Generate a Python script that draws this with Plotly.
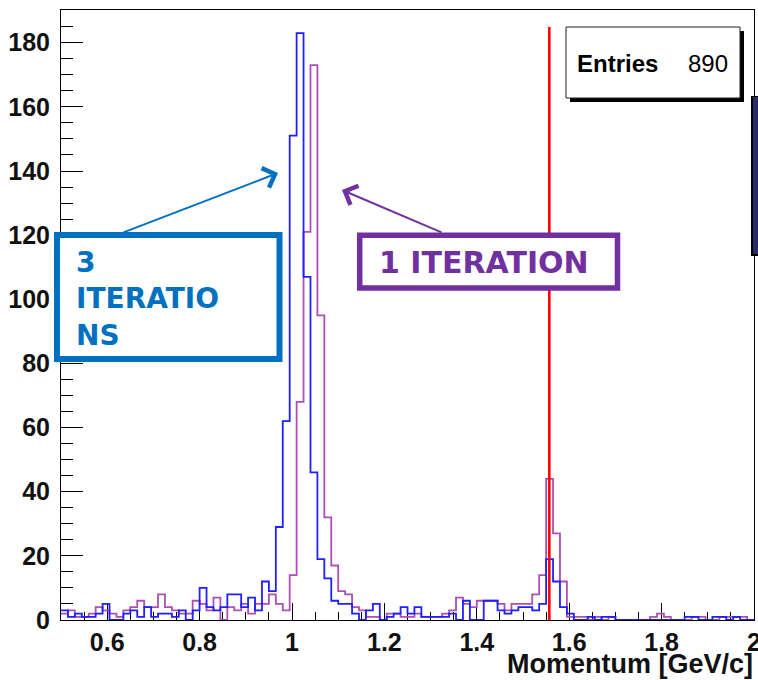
import plotly.graph_objects as go

# ---------------- data ----------------
bin_start = 0.5
bin_width = 0.015

blue_counts = [3, 1, 2, 1, 1, 2, 5, 0, 0, 2,
               3, 1, 4, 1, 2, 2, 1, 3, 0, 3,
               10, 4, 3, 4, 8, 8, 4, 7, 3, 12,
               9, 29, 62, 151, 183, 107, 46, 19, 13, 6,
               5, 5, 2, 0, 3, 5, 0, 1, 2, 4,
               2, 4, 1, 1, 1, 1, 2, 0, 6, 0,
               0, 6, 6, 3, 2, 3, 4, 4, 3, 5,
               19, 12, 4, 2, 0, 0, 1, 0, 1, 1,
               0, 0, 0, 0, 0, 0, 0, 0, 0, 0,
               1, 1, 0, 0, 1, 1, 0, 1, 0, 0]

purple_counts = [2, 3, 1, 1, 2, 4, 3, 2, 1, 3,
                 4, 6, 4, 4, 8, 4, 3, 2, 2, 6,
                 5, 3, 7, 0, 4, 3, 5, 2, 5, 5,
                 8, 5, 3, 14, 68, 121, 173, 95, 32, 17,
                 9, 8, 4, 3, 1, 1, 0, 2, 2, 1,
                 1, 2, 1, 1, 1, 2, 3, 7, 5, 4,
                 6, 6, 6, 5, 3, 5, 5, 5, 8, 14,
                 44, 27, 12, 1, 1, 1, 0, 1, 0, 1,
                 0, 0, 0, 0, 0, 1, 2, 1, 0, 0,
                 0, 1, 1, 0, 0, 1, 1, 1, 1, 0]

cut_momentum = 1.557
entries = 890
x_ticks = [0.6, 0.8, 1.0, 1.2, 1.4, 1.6, 1.8, 2.0]
x_tick_labels = ["0.6", "0.8", "1", "1.2", "1.4", "1.6", "1.8", "2"]
y_ticks = [0, 20, 40, 60, 80, 100, 120, 140, 160, 180]
x_title = "Momentum [GeV/c]"
label_blue = "3<br>ITERATIO<br>NS"
label_purple = "1 ITERATION"

# ---------------- geometry helpers (pixels -> paper) ----------------
W, H = 758, 680
L, R, T, B = 61, 4, 10, 60
PW, PH = W - L - R, H - T - B


def px(xp):
    return (xp - L) / PW


def py(yp):
    return (H - B - yp) / PH


def step_xy(counts):
    edges = [bin_start + bin_width * i for i in range(len(counts) + 1)]
    return edges[:-1] + [edges[-1]], list(counts) + [counts[-1]]


BLUE = "#1f1fff"
PURPLE = "#ab50b4"
BOX_BLUE = "#0070c0"
BOX_PURPLE = "#7030a0"

fig = go.Figure()
xp, yp = step_xy(purple_counts)
fig.add_trace(go.Scatter(x=xp, y=yp, mode="lines", line=dict(color=PURPLE, width=1.8, shape="hv"),
                         hoverinfo="skip"))
xb, yb = step_xy(blue_counts)
fig.add_trace(go.Scatter(x=xb, y=yb, mode="lines", line=dict(color=BLUE, width=1.8, shape="hv"),
                         hoverinfo="skip"))

shapes = []
# red cut line
shapes.append(dict(type="line", xref="x", yref="paper", x0=cut_momentum, x1=cut_momentum,
                   y0=0, y1=py(27), line=dict(color="#ff0000", width=2.6)))
# stats box with shadow
shapes.append(dict(type="rect", xref="paper", yref="paper", x0=px(570), x1=px(744), y0=py(102), y1=py(31),
                   fillcolor="#000", line=dict(width=0)))
shapes.append(dict(type="rect", xref="paper", yref="paper", x0=px(566), x1=px(740), y0=py(98), y1=py(27),
                   fillcolor="#fff", line=dict(color="#222", width=1)))
# dark bar at right edge
shapes.append(dict(type="rect", xref="paper", yref="paper", x0=px(751), x1=px(760), y0=py(256), y1=py(96),
                   fillcolor="#000", line=dict(width=0)))
shapes.append(dict(type="rect", xref="paper", yref="paper", x0=px(753), x1=px(760), y0=py(254), y1=py(97),
                   fillcolor="#2a2a6c", line=dict(width=0)))
# annotation boxes
shapes.append(dict(type="rect", xref="paper", yref="paper", x0=px(57), x1=px(279.5), y0=py(359), y1=py(235),
                   fillcolor="#fff", line=dict(color=BOX_BLUE, width=6)))
shapes.append(dict(type="rect", xref="paper", yref="paper", x0=px(359.7), x1=px(617.5), y0=py(288), y1=py(235.3),
                   fillcolor="#fff", line=dict(color=BOX_PURPLE, width=5.5)))

annotations = []
# arrows
annotations.append(dict(xref="paper", yref="paper", x=px(278), y=py(173), ax=122 - 278, ay=233 - 173,
                        axref="pixel", ayref="pixel", text="", showarrow=True, arrowhead=4, arrowsize=2,
                        arrowwidth=2, arrowcolor=BOX_BLUE, standoff=0))
annotations.append(dict(xref="paper", yref="paper", x=px(342), y=py(190), ax=443 - 342, ay=233 - 190,
                        axref="pixel", ayref="pixel", text="", showarrow=True, arrowhead=4, arrowsize=2,
                        arrowwidth=2, arrowcolor=BOX_PURPLE, standoff=0))
# box texts
annotations.append(dict(xref="paper", yref="paper", x=px(74), y=py(244), xanchor="left", yanchor="top",
                        text=label_blue, showarrow=False, align="left",
                        font=dict(family="DejaVu Sans", size=28, color=BOX_BLUE, weight="bold")))
annotations.append(dict(xref="paper", yref="paper", x=px(377), y=py(262), xanchor="left", yanchor="middle",
                        text=label_purple, showarrow=False,
                        font=dict(family="DejaVu Sans", size=30, color=BOX_PURPLE, weight="bold")))
# stats text
annotations.append(dict(xref="paper", yref="paper", x=px(575), y=py(63), xanchor="left", yanchor="middle",
                        text="Entries", showarrow=False,
                        font=dict(family="Liberation Sans", size=24, color="#000", weight="bold")))
annotations.append(dict(xref="paper", yref="paper", x=px(730), y=py(63), xanchor="right", yanchor="middle",
                        text=str(entries), showarrow=False,
                        font=dict(family="Liberation Sans", size=24, color="#000")))
# axis title
annotations.append(dict(xref="paper", yref="paper", x=px(755), y=py(664), xanchor="right", yanchor="middle",
                        text=x_title, showarrow=False,
                        font=dict(family="Liberation Sans", size=27, color="#111", weight="bold")))

tickfont = dict(family="Liberation Sans", size=25, color="#111", weight="bold")

fig.update_layout(
    width=W, height=H, autosize=False,
    margin=dict(l=L, r=R, t=T, b=B, pad=0, autoexpand=False),
    paper_bgcolor="#fff", plot_bgcolor="#fff",
    showlegend=False,
    shapes=shapes, annotations=annotations,
    xaxis=dict(range=[bin_start, 2.0], showgrid=False, zeroline=False, automargin=False,
               tickmode="array", tickvals=x_ticks, ticktext=x_tick_labels,
               ticks="inside", ticklen=17, tickwidth=1, tickcolor="#000",
               minor=dict(ticks="inside", ticklen=8, dtick=0.05, tick0=0, tickcolor="#000", tickwidth=1,
                          showgrid=False),
               showline=True, linecolor="#000", linewidth=1, mirror=True,
               tickfont=tickfont, ticklabeloverflow="allow", ticklabelstandoff=0,
               layer="below traces", fixedrange=True),
    yaxis=dict(range=[0, 190.2], showgrid=False, zeroline=False, automargin=False,
               tickmode="array", tickvals=y_ticks,
               ticks="inside", ticklen=22, tickwidth=1, tickcolor="#000",
               minor=dict(ticks="inside", ticklen=12, dtick=5, tick0=0, tickcolor="#000", tickwidth=1,
                          showgrid=False),
               showline=True, linecolor="#000", linewidth=1, mirror=True,
               tickfont=tickfont, ticklabelstandoff=5,
               layer="below traces", fixedrange=True),
)

fig.write_html("out.html")
